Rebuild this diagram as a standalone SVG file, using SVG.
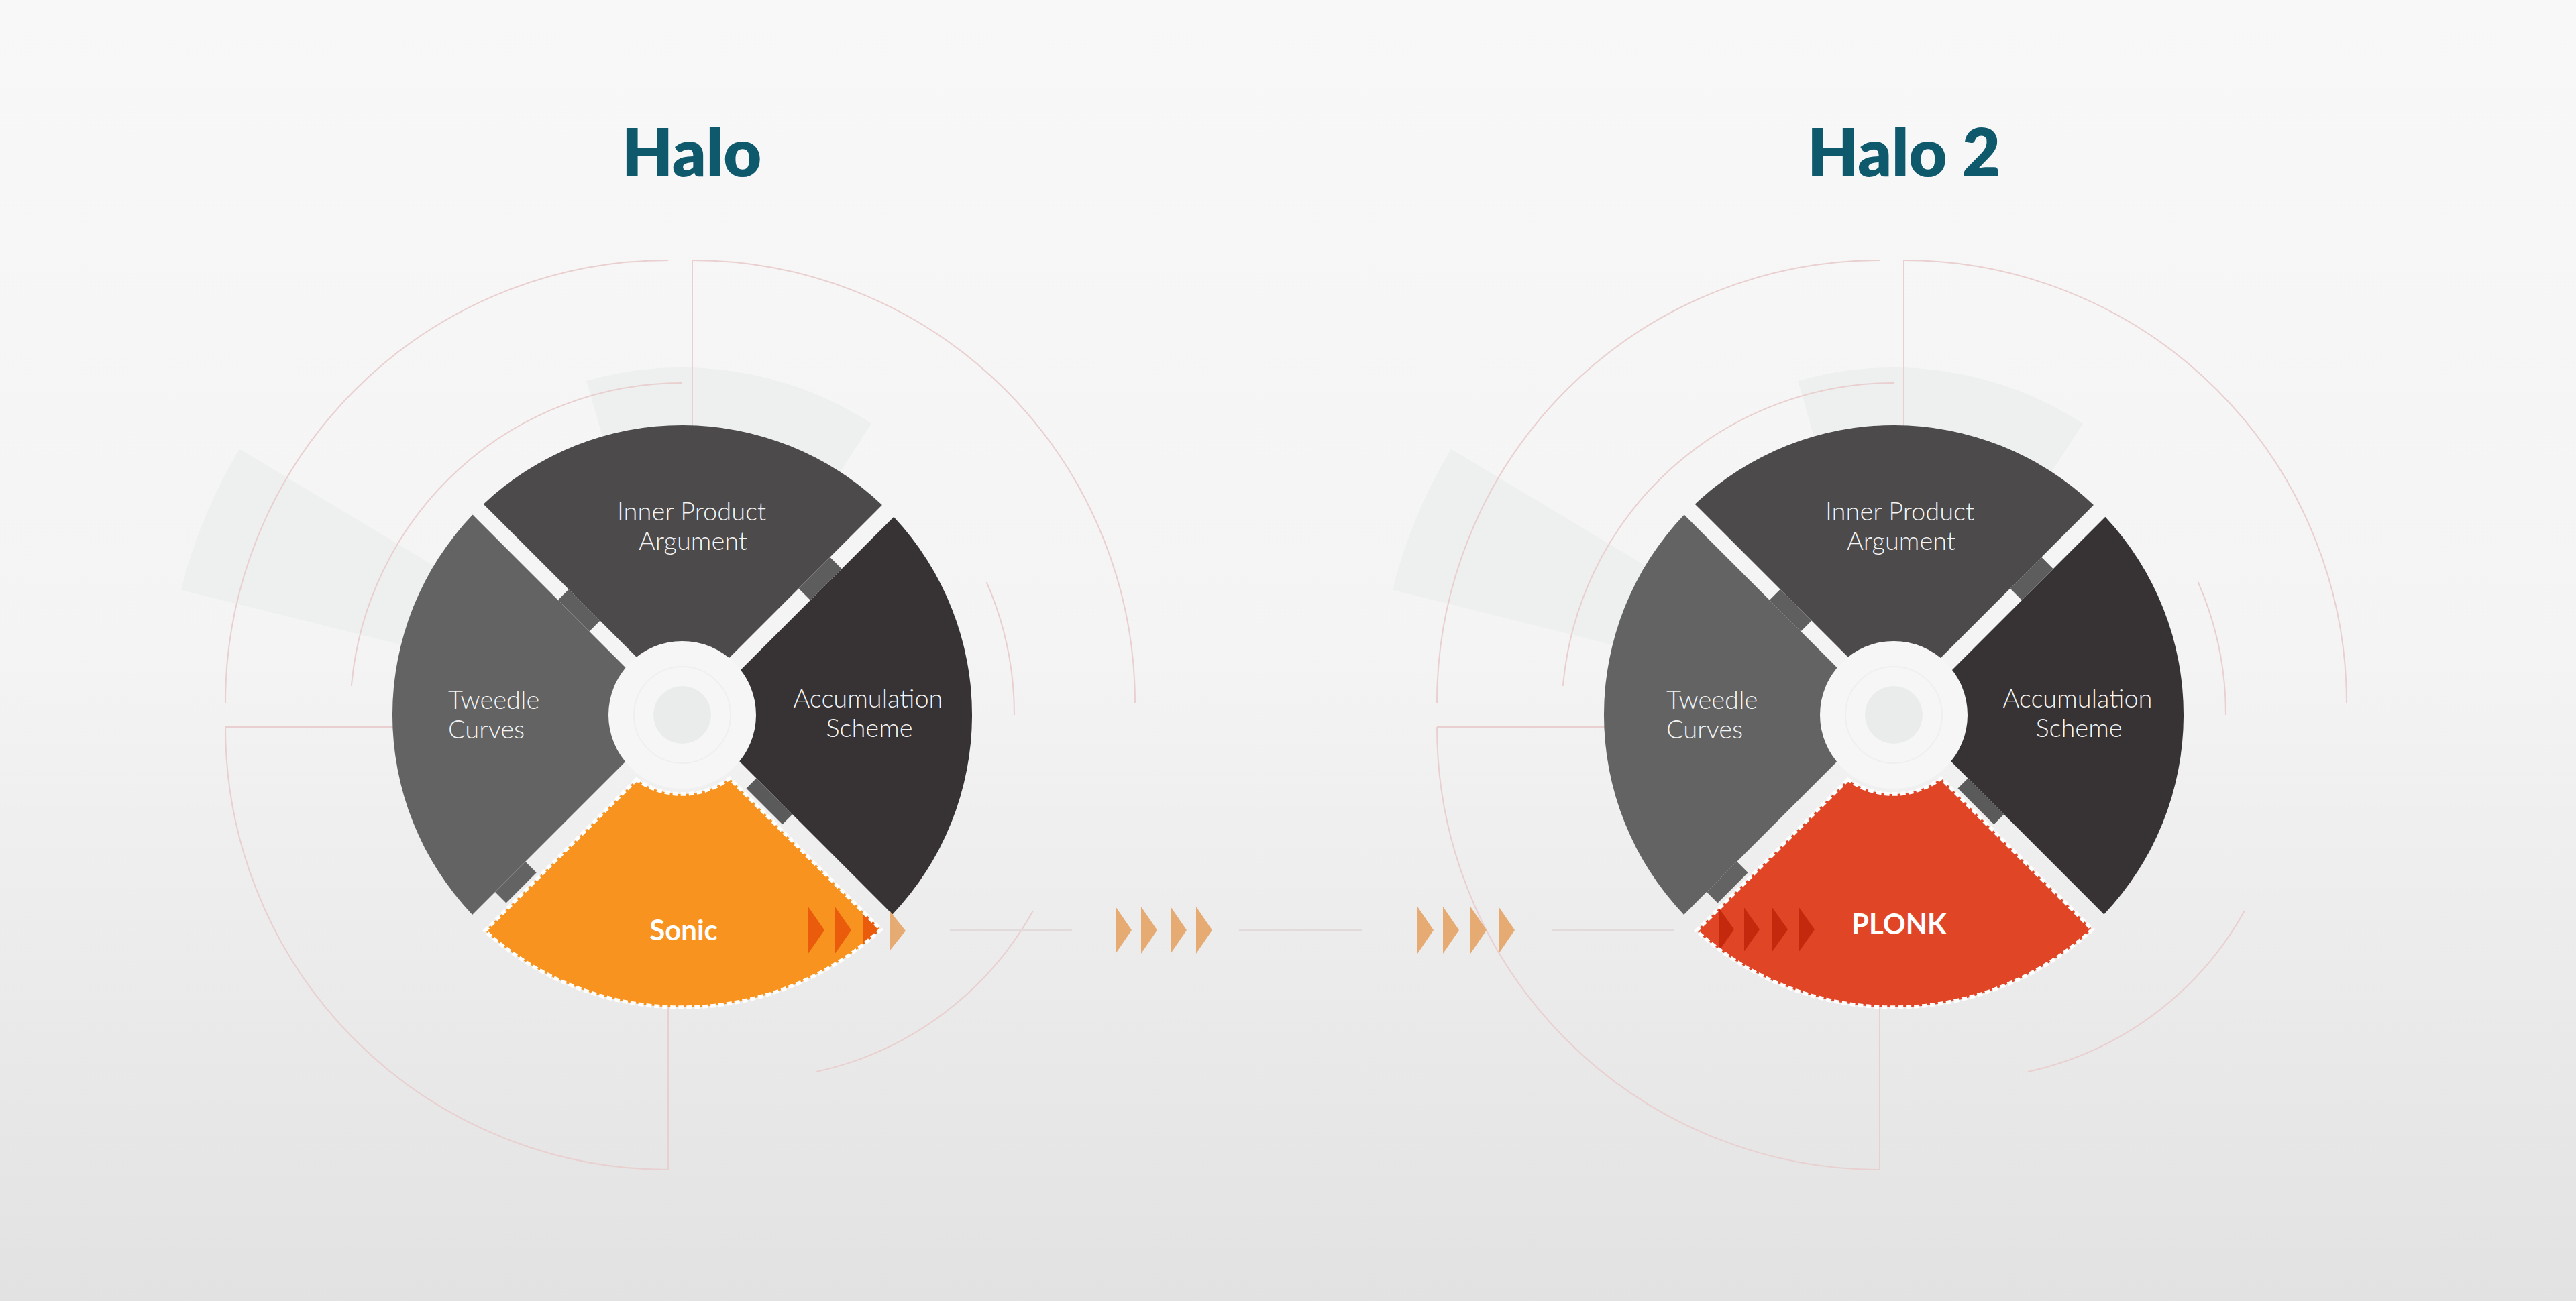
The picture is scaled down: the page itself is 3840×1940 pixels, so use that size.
<svg xmlns="http://www.w3.org/2000/svg" xmlns:xlink="http://www.w3.org/1999/xlink" width="3840" height="1940" viewBox="0 0 3840 1940">
<defs>
<linearGradient id="bg" x1="0" y1="0" x2="0" y2="1">
<stop offset="0" stop-color="#f8f8f8"/>
<stop offset="0.5" stop-color="#f4f4f4"/>
<stop offset="1" stop-color="#e2e2e2"/>
</linearGradient>
<clipPath id="sectorClip" clipPathUnits="userSpaceOnUse">
<path d="M -68.3,96.3 L -294.0,322.0 A 436 436 0 0 0 296.1,320.1 L 70.6,94.6 A 118 118 0 0 1 -68.3,96.3 Z"/>
</clipPath>
<path id="tri" d="M0,-35 L24,0 L0,35 Z"/>
<g id="deco">
<path class="wedge" d="M -747.1,-186.3 A 770 770 0 0 1 -660.0,-396.6 L -360.0,-216.3 A 420 420 0 0 0 -407.5,-101.6 Z"/>
<path class="wedge" d="M -142.8,-498.0 A 518 518 0 0 1 282.1,-434.4 L 228.7,-352.3 A 420 420 0 0 0 -115.8,-403.7 Z"/>
<path class="thin" d="M -21,-678 A 660 660 0 0 0 -681,-18"/>
<path class="thin" d="M 15,-678 A 660 660 0 0 1 675,-18"/>
<path class="thin" d="M -681,18 A 660 660 0 0 0 -21,678"/>
<path class="thin" d="M 15,-678 L 15,-400 M -681,18 L -400,18 M -21,678 L -21,400"/>
<path class="thin" d="M 0,-495 A 495 495 0 0 0 -493.1,-43.1"/>
<path class="thin" d="M 453.6,-198.2 A 495 495 0 0 1 495,0"/>
<path class="thin" d="M 523,292 A 487 487 0 0 1 200,532"/>
</g>
<g id="hub">
<circle r="110" fill="#f6f6f6"/>
<circle r="72" fill="none" stroke="#efefef" stroke-width="2"/>
<circle r="43" fill="#eaeceb"/>
</g>
<g id="chunks">
<path fill="#5f5f5f" d="M -122.5,-140.5 L -169.2,-187.2 L -185.2,-171.2 L -138.5,-124.5 Z"/>
<path fill="#5e5d5e" d="M 173.5,-188.5 L 191,-171 L 237.7,-217.7 L 220.2,-235.2 Z"/>
<path fill="#5b5a5b" d="M 110.5,94.5 L 95.5,109.5 L 149.3,163.3 L 164.3,148.3 Z"/>
<path fill="#636363" d="M -233.8,218.8 L -217.3,235.3 L -262.5,280.5 L -279.0,264.0 Z"/>
</g>
</defs>
<style>
.wedge { fill: #edf0ef; }
.thin { fill: none; stroke: #e9cfcf; stroke-width: 2; }
.hline { stroke: #e3dbdb; stroke-width: 3; }
.seg-top { fill: #4d4a4b; }
.seg-left { fill: #636363; }
.seg-right { fill: #373334; }
.title { font-family: Lato, "Open Sans", sans-serif; font-weight: 800; font-size: 98px; fill: #0f596c; text-anchor: middle; }
.lbl { font-family: Lato, "Open Sans", sans-serif; font-weight: 300; font-size: 38px; fill: #f4f4f4; }
.mid { text-anchor: middle; }
.key { font-family: Lato, "Open Sans", sans-serif; font-weight: 700; font-size: 42px; fill: #ffffff; text-anchor: middle; }
.sector-edge { fill: none; stroke: #ffffff; stroke-width: 5.5; stroke-dasharray: 8 4; }
.tan { fill: #e6ab72; }
</style>
<rect x="0" y="0" width="3840" height="1940" fill="url(#bg)"/>

<text id="title-halo" class="title" x="1031" y="263">Halo</text>
<text id="title-halo2" class="title" x="2838" y="263">Halo 2</text>

<g id="halo" transform="translate(1017,1066)">
<use xlink:href="#deco" href="#deco"/>
<g id="halo-ipa">
<path class="seg-top" d="M -296.3,-314.3 A 432 432 0 0 1 297.9,-312.9 L 1.5,-16.5 Z"/>
<text class="lbl mid" x="14" y="-290">Inner Product</text>
<text class="lbl mid" x="16" y="-246">Argument</text>
</g>
<g id="halo-tweedle">
<path class="seg-left" d="M -312.9,297.9 A 432 432 0 0 1 -312.4,-298.4 L -14.5,-0.5 Z"/>
<text class="lbl" x="-349" y="-9">Tweedle</text>
<text class="lbl" x="-349" y="35">Curves</text>
</g>
<g id="halo-accumulation">
<path class="seg-right" d="M 315.3,-295.3 A 432 432 0 0 1 313.4,297.4 L 18,2 Z"/>
<text class="lbl mid" x="277" y="-11">Accumulation</text>
<text class="lbl mid" x="279" y="33">Scheme</text>
</g>
<use xlink:href="#chunks" href="#chunks"/>
<use xlink:href="#hub" href="#hub"/>
<g id="halo-sonic">
<path fill="#f7931e" d="M -68.3,96.3 L -294.0,322.0 A 436 436 0 0 0 296.1,320.1 L 70.6,94.6 A 118 118 0 0 1 -68.3,96.3 Z"/>
<g clip-path="url(#sectorClip)" fill="#ea5b0c">
<path d="M188,286.5 L212,321 L188,355.5 Z"/>
<path d="M228,286.5 L252,321 L228,355.5 Z"/>
<path d="M270,286.5 L294,321 L270,355.5 Z"/>
</g>
<path class="sector-edge" d="M -68.3,96.3 L -294.0,322.0 A 436 436 0 0 0 296.1,320.1 L 70.6,94.6 A 118 118 0 0 1 -68.3,96.3 Z"/>
<text class="key" x="2" y="336">Sonic</text>
</g>
</g>

<g id="halo2" transform="translate(2823,1066)">
<use xlink:href="#deco" href="#deco"/>
<g id="halo2-ipa">
<path class="seg-top" d="M -296.3,-314.3 A 432 432 0 0 1 297.9,-312.9 L 1.5,-16.5 Z"/>
<text class="lbl mid" x="9" y="-290">Inner Product</text>
<text class="lbl mid" x="11" y="-246">Argument</text>
</g>
<g id="halo2-tweedle">
<path class="seg-left" d="M -312.9,297.9 A 432 432 0 0 1 -312.4,-298.4 L -14.5,-0.5 Z"/>
<text class="lbl" x="-339" y="-9">Tweedle</text>
<text class="lbl" x="-339" y="35">Curves</text>
</g>
<g id="halo2-accumulation">
<path class="seg-right" d="M 315.3,-295.3 A 432 432 0 0 1 313.4,297.4 L 18,2 Z"/>
<text class="lbl mid" x="274" y="-11">Accumulation</text>
<text class="lbl mid" x="276" y="33">Scheme</text>
</g>
<use xlink:href="#chunks" href="#chunks"/>
<use xlink:href="#hub" href="#hub"/>
<g id="halo2-plonk">
<path fill="#e04526" d="M -68.3,96.3 L -294.0,322.0 A 436 436 0 0 0 296.1,320.1 L 70.6,94.6 A 118 118 0 0 1 -68.3,96.3 Z"/>
<g clip-path="url(#sectorClip)" fill="#c4280d">
<path d="M-261,287.5 L-238,320 L-261,352.5 Z"/>
<path d="M-223,287.5 L-200,320 L-223,352.5 Z"/>
<path d="M-181,287.5 L-158,320 L-181,352.5 Z"/>
<path d="M-141,287.5 L-118,320 L-141,352.5 Z"/>
</g>
<path class="sector-edge" d="M -68.3,96.3 L -294.0,322.0 A 436 436 0 0 0 296.1,320.1 L 70.6,94.6 A 118 118 0 0 1 -68.3,96.3 Z"/>
<text class="key" x="8" y="327">PLONK</text>
</g>
</g>

<g id="connectors">
<line class="hline" x1="1416" y1="1387" x2="1598" y2="1387"/>
<line class="hline" x1="1847" y1="1387" x2="2031" y2="1387"/>
<line class="hline" x1="2313" y1="1387" x2="2496" y2="1387"/>
<path class="tan" d="M1326,1358 L1350,1388 L1326,1418 Z"/>
<use class="tan" xlink:href="#tri" href="#tri" x="1663" y="1387"/>
<use class="tan" xlink:href="#tri" href="#tri" x="1701" y="1387"/>
<use class="tan" xlink:href="#tri" href="#tri" x="1745" y="1387"/>
<use class="tan" xlink:href="#tri" href="#tri" x="1783" y="1387"/>
<use class="tan" xlink:href="#tri" href="#tri" x="2113" y="1387"/>
<use class="tan" xlink:href="#tri" href="#tri" x="2151" y="1387"/>
<use class="tan" xlink:href="#tri" href="#tri" x="2192" y="1387"/>
<use class="tan" xlink:href="#tri" href="#tri" x="2234" y="1387"/>
</g>
</svg>
